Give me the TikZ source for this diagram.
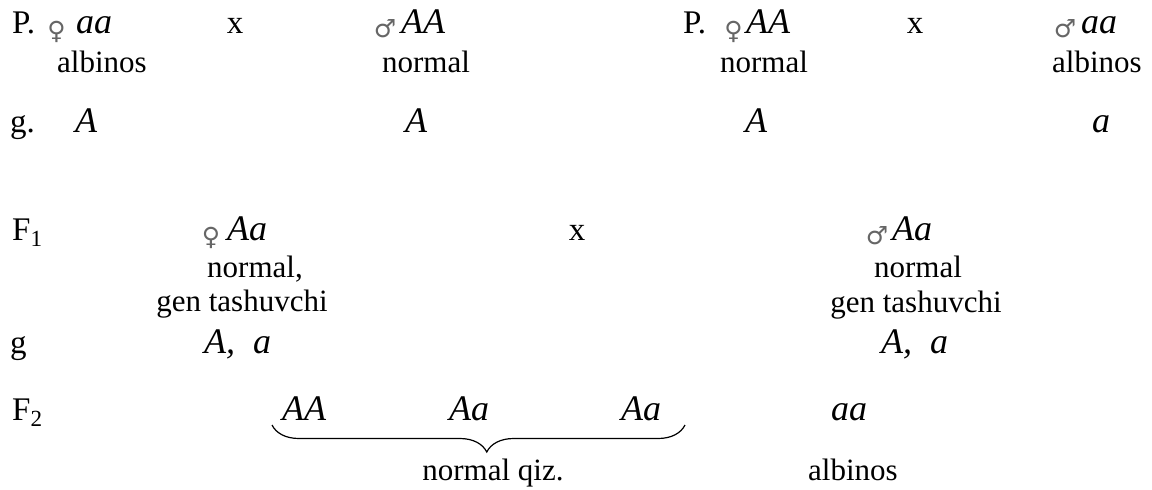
\documentclass[tikz,border=0pt]{standalone}
\usepackage{fontspec}
\setmainfont{Liberation Serif}
\newfontfamily\sexfont{DejaVu Sans}
\usetikzlibrary{positioning,decorations.pathreplacing}
\tikzset{
  lbl/.style={font=\fontsize{33}{36}\selectfont,inner sep=0pt},
  gen/.style={font=\fontsize{36}{40}\selectfont\itshape,inner sep=0pt},
  phen/.style={font=\fontsize{31}{34}\selectfont,inner sep=0pt},
  sx/.style={font=\sexfont\fontsize{25}{26}\selectfont,text=black!60,inner sep=0pt},
  brc/.style={decorate,decoration={brace,mirror,amplitude=27pt,aspect=0.52},
    line width=1.2pt},
}

\begin{document}
\begin{tikzpicture}[x=1pt,y=-1pt]
  \useasboundingbox (0,0) rectangle (1152,490);
  % first cross
  \node[lbl,anchor=base west] (pa) at (12,33) {P.};
  \node[sx] (fa) at (56.5,32) {♀};
  \node[gen,anchor=base west] (ga) at (76,33) {aa};
  \node[lbl,anchor=base] (xa) at (235,33) {x};
  \node[sx] (ma) at (385,29) {♂};
  \node[gen,anchor=base west] (gb) at (401,33) {AA};
  \node[phen,anchor=base] (pha) at (102,72) {albinos};
  \node[phen,anchor=base] (phb) at (426,72) {normal};
  \node[lbl,anchor=base west] (gam) at (10,132) {g.};
  \node[gen,anchor=base] (ka) at (86,132) {A};
  \node[gen,anchor=base] (kb) at (416,132) {A};
  % second cross
  \node[lbl,anchor=base west] (pb) at (683,33) {P.};
  \node[sx] (fb) at (733.5,32) {♀};
  \node[gen,anchor=base west] (gc) at (746,33) {AA};
  \node[lbl,anchor=base] (xb) at (915,33) {x};
  \node[sx] (mb) at (1065,29) {♂};
  \node[gen,anchor=base west] (gd) at (1081,33) {aa};
  \node[phen,anchor=base] (phc) at (764,72) {normal};
  \node[phen,anchor=base] (phd) at (1097,72) {albinos};
  \node[gen,anchor=base] (kc) at (756,132) {A};
  \node[gen,anchor=base] (kd) at (1101,132) {a};
  % F1
  \node[lbl,anchor=base west] (fone) at (12,240) {F\textsubscript{1}};
  \node[sx] (fc) at (211,238) {♀};
  \node[gen,anchor=base west] (ge) at (227,240) {Aa};
  \node[lbl,anchor=base] (xc) at (577,240) {x};
  \node[sx] (mc) at (877,236) {♂};
  \node[gen,anchor=base west] (gf) at (892,240) {Aa};
  \node[phen,anchor=base] (phe) at (255,277) {normal,};
  \node[phen,anchor=base] (phf) at (242,311) {gen tashuvchi};
  \node[phen,anchor=base] (phg) at (918,277) {normal};
  \node[phen,anchor=base] (phh) at (916,312) {gen tashuvchi};
  \node[lbl,anchor=base west] (gam2) at (10,353) {g};
  \node[gen,anchor=base west] (ke) at (204,353) {A,~ a};
  \node[gen,anchor=base west] (kf) at (881,353) {A,~ a};
  % F2
  \node[lbl,anchor=base west] (ftwo) at (12,420) {F\textsubscript{2}};
  \node[gen,anchor=base] (oa) at (304,420) {AA};
  \node[gen,anchor=base] (ob) at (469,420) {Aa};
  \node[gen,anchor=base] (oc) at (641,420) {Aa};
  \node[gen,anchor=base] (od) at (849,420) {aa};
  \coordinate (bl) at (272,425);
  \coordinate (br) at (685,425);
  \draw[brc] (bl) -- (br);
  \node[phen,anchor=base] (nq) at (493,480) {normal qiz.};
  \node[phen,anchor=base] (alb) at (853,480) {albinos};
\end{tikzpicture}
\end{document}
